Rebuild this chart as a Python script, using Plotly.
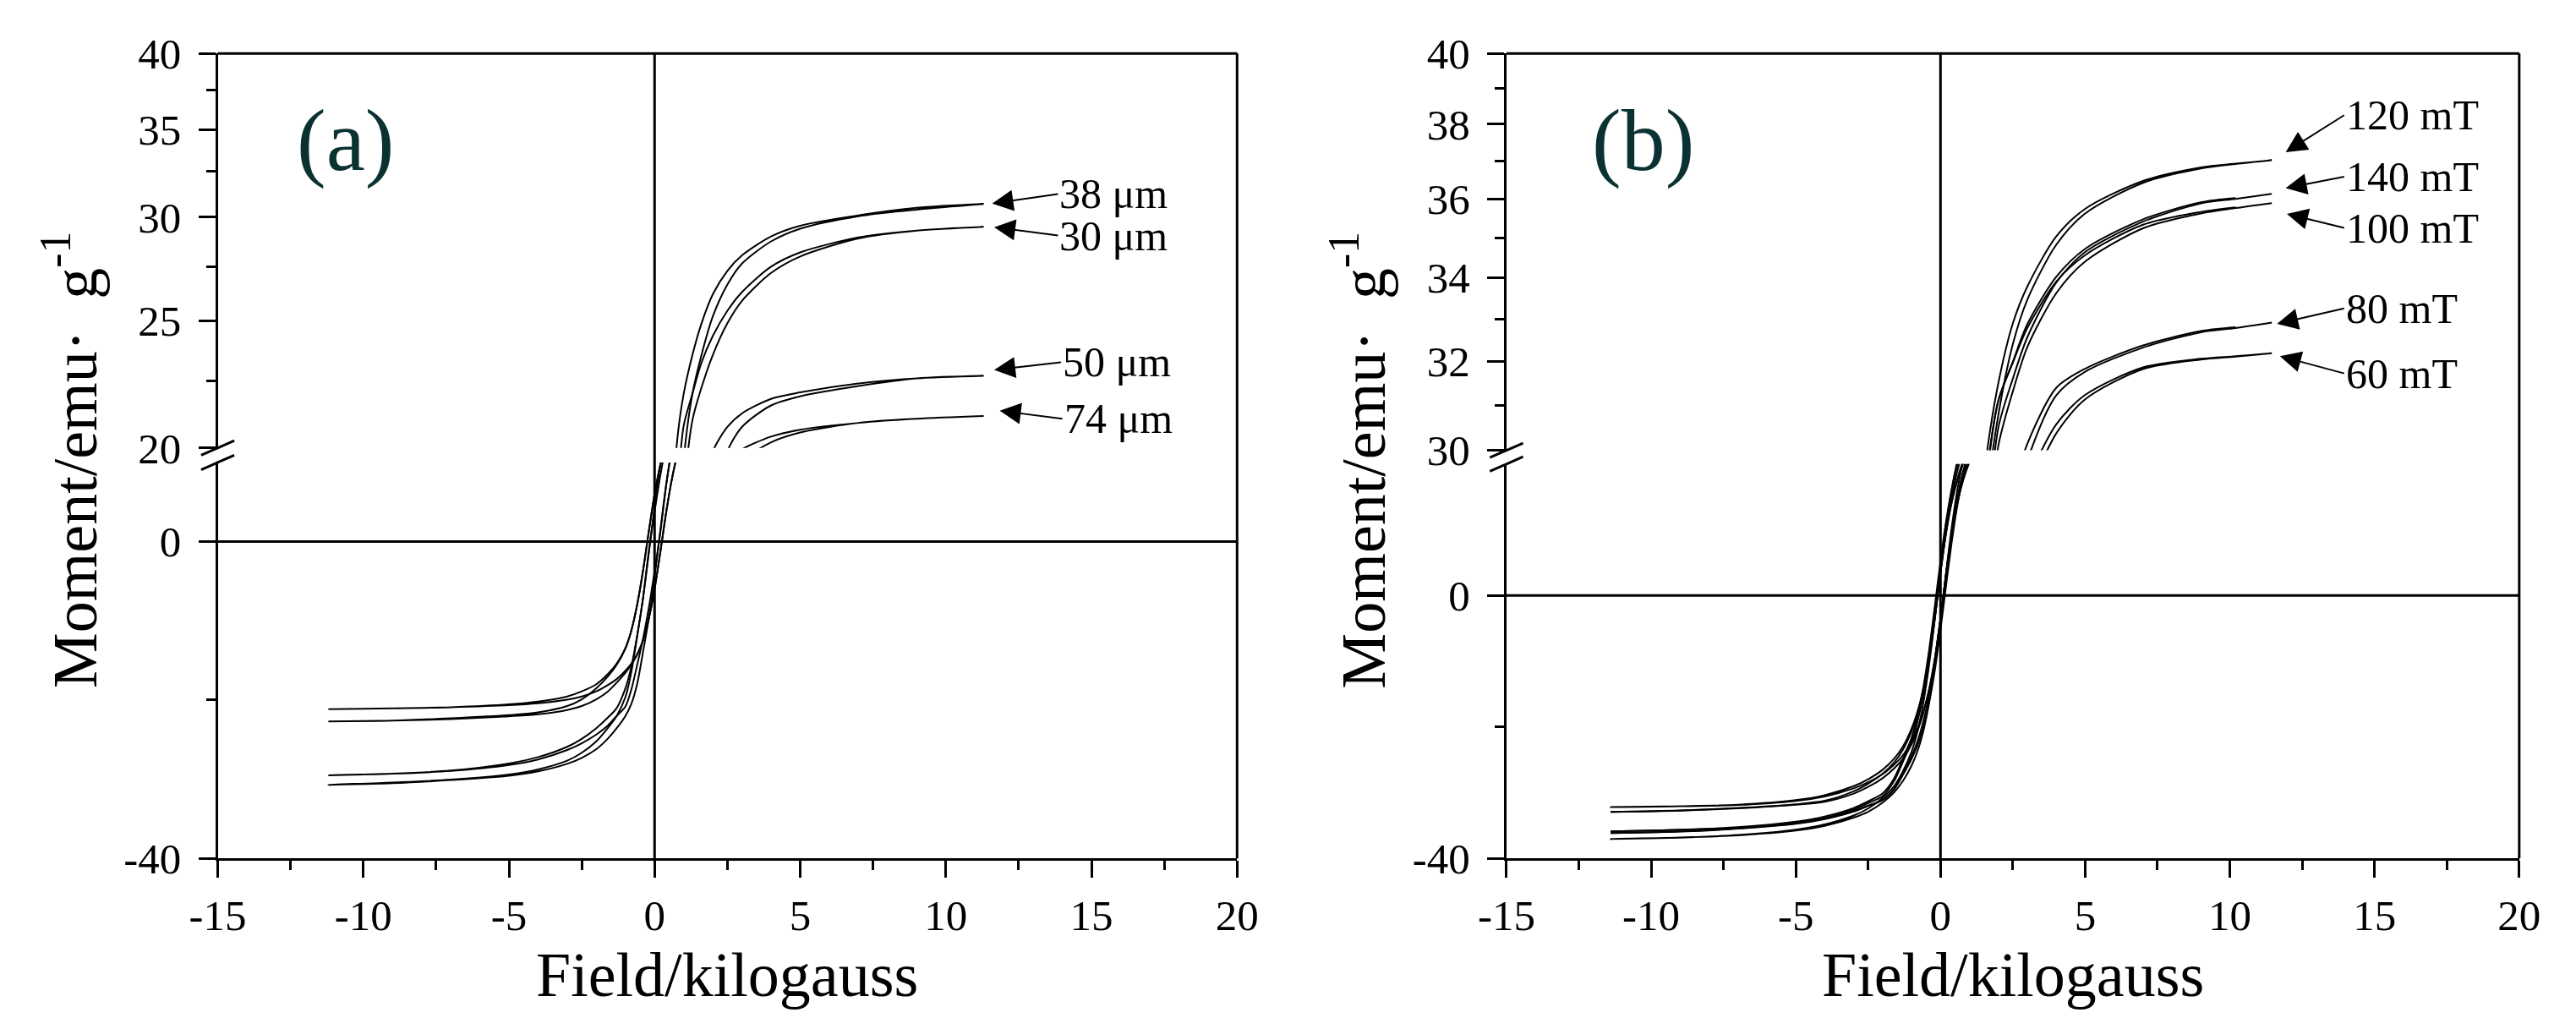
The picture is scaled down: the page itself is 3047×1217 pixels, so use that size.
import numpy as np
import plotly.graph_objects as go

W, H = 3047, 1217
FONT = "Liberation Serif"

# %% data, panel (a): field in kG, moment in emu/g (up = ascending branch, down = descending)
field_a = [-11.2, -9, -7, -5, -4, -3, -2.5, -2, -1.6, -1.3, -1.0, -0.8, -0.6, -0.4, -0.2,
           0, 0.2, 0.4, 0.6, 0.8, 1.0, 1.3, 1.6, 2.0, 2.5, 3, 4, 5, 7, 9, 11.3]

m38_up = [-30.7, -30.5, -30.1, -29.55, -29.0, -28.05, -27.3, -26.2, -24.85, -23.55, -22.0, -20.5, -18.0, -14.0, -9.75,
          -4.5, 1.5, 7.25, 12.0, 16.5, 19.6, 22.0, 23.5, 25.2, 26.65, 27.65, 28.75, 29.4, 30.05, 30.4, 30.7]
m38_down = [-30.7, -30.4, -30.05, -29.4, -28.75, -27.65, -26.65, -25.2, -23.5, -22.0, -19.6, -16.5, -12.0, -7.25, -1.5,
            4.5, 9.75, 14.0, 18.0, 20.5, 22.0, 23.55, 24.85, 26.2, 27.3, 28.05, 29.0, 29.55, 30.1, 30.5, 30.7]

m30_up = [-29.5, -29.3, -28.95, -28.2, -27.5, -26.3, -25.45, -24.35, -23.2, -22.0, -20.8, -18.7, -15.6, -12.3, -8.4,
          -3.75, 1.25, 7.2, 11.9, 15.8, 18.5, 21.0, 22.2, 23.55, 24.9, 25.9, 27.2, 28.0, 28.9, 29.3, 29.5]
m30_down = [-29.5, -29.3, -28.9, -28.0, -27.2, -25.9, -24.9, -23.55, -22.2, -21.0, -18.5, -15.8, -11.9, -7.2, -1.25,
            3.75, 8.4, 12.3, 15.6, 18.7, 20.8, 22.0, 23.2, 24.35, 25.45, 26.3, 27.5, 28.2, 28.95, 29.3, 29.5]

m50_up = [-22.7, -22.6, -22.4, -22.05, -21.8, -21.25, -20.75, -19.9, -18.9, -17.8, -16.55, -15.55, -14.3, -12.5, -9.7,
          -6.0, -1.25, 3.75, 8.0, 11.25, 13.5, 15.55, 17.0, 18.5, 19.9, 20.75, 21.55, 21.9, 22.3, 22.6, 22.7]
m50_down = [-22.7, -22.6, -22.3, -21.9, -21.55, -20.75, -19.9, -18.5, -17.0, -15.55, -13.5, -11.25, -8.0, -3.75, 1.25,
            6.0, 9.7, 12.5, 14.3, 15.55, 16.55, 17.8, 18.9, 19.9, 20.75, 21.25, 21.8, 22.05, 22.4, 22.6, 22.7]

m74_up = [-21.15, -21.05, -20.9, -20.65, -20.4, -19.95, -19.55, -18.9, -18.1, -17.35, -16.3, -15.4, -14.2, -12.5, -9.75,
          -6.0, -1.25, 3.75, 8.0, 11.25, 13.4, 15.4, 16.7, 18.0, 18.9, 19.55, 20.2, 20.55, 20.9, 21.05, 21.15]
m74_down = [-21.15, -21.05, -20.9, -20.55, -20.2, -19.55, -18.9, -18.0, -16.7, -15.4, -13.4, -11.25, -8.0, -3.75, 1.25,
            6.0, 9.75, 12.5, 14.2, 15.4, 16.3, 17.35, 18.1, 18.9, 19.55, 19.95, 20.4, 20.65, 20.9, 21.05, 21.15]

# %% data, panel (b)
field_b = [-11.4, -9, -7, -5, -4, -3, -2.5, -2, -1.6, -1.3, -1.0, -0.8, -0.6, -0.4, -0.2,
           0, 0.2, 0.4, 0.6, 0.8, 1.0, 1.3, 1.6, 2.0, 2.5, 3, 4, 5, 7, 9, 10.2, 11.45]

m120_up = [-37.02, -36.83, -36.47, -35.74, -35.03, -33.78, -32.89, -31.5, -29.93, -28.23, -25.87, -23.75, -20.75, -16.5, -10.75,
           -3.75, 3.75, 10.75, 16.5, 20.75, 23.75, 26.73, 28.97, 30.78, 32.4, 33.46, 34.82, 35.62, 36.42, 36.8, 36.92, 37.02]
m120_down = [-37.02, -36.8, -36.42, -35.62, -34.82, -33.46, -32.4, -30.78, -28.97, -26.73, -23.75, -20.75, -16.5, -10.75, -3.75,
             3.75, 10.75, 16.5, 20.75, 23.75, 25.87, 28.23, 29.93, 31.5, 32.89, 33.78, 35.03, 35.74, 36.47, 36.83, 36.93, 37.02]

m140_up = [-36.13, -35.91, -35.47, -34.72, -34.02, -32.87, -31.99, -31.1, -29.4, -26.97, -24.4, -22.25, -19.25, -15.25, -10.0,
           -3.5, 3.5, 10.0, 15.25, 19.25, 22.25, 25.3, 28.2, 30.5, 31.6, 32.56, 33.88, 34.64, 35.41, 35.88, 36.0, 36.13]
m140_down = [-36.13, -35.88, -35.41, -34.64, -33.88, -32.56, -31.6, -30.5, -28.2, -25.3, -22.25, -19.25, -15.25, -10.0, -3.5,
             3.5, 10.0, 15.25, 19.25, 22.25, 24.4, 26.97, 29.4, 31.1, 31.99, 32.87, 34.02, 34.72, 35.47, 35.91, 36.02, None]

m100_up = [-35.89, -35.66, -35.33, -34.56, -33.9, -32.78, -31.97, -31.1, -29.5, -27.3, -24.85, -22.88, -20.13, -16.38, -11.5,
           -5.25, 1.75, 8.5, 14.13, 18.38, 21.63, 24.85, 27.8, 30.1, 31.31, 32.33, 33.62, 34.4, 35.24, 35.62, 35.76, 35.89]
m100_down = [-35.89, -35.62, -35.24, -34.4, -33.62, -32.33, -31.31, -30.1, -27.8, -24.85, -21.63, -18.38, -14.13, -8.5, -1.75,
             5.25, 11.5, 16.38, 20.13, 22.88, 24.85, 27.3, 29.5, 31.1, 31.97, 32.78, 33.9, 34.56, 35.33, 35.66, 35.78, None]

m80_up = [-32.91, -32.71, -32.37, -31.83, -31.39, -30.14, -29.12, -27.78, -26.3, -24.83, -22.63, -20.65, -18.0, -14.5, -9.75,
          -3.5, 3.5, 9.75, 14.5, 18.0, 20.65, 23.47, 25.37, 27.1, 28.62, 29.78, 31.22, 31.76, 32.32, 32.68, 32.78, 32.91]
m80_down = [-32.91, -32.68, -32.32, -31.76, -31.22, -29.78, -28.62, -27.1, -25.37, -23.47, -20.65, -18.0, -14.5, -9.75, -3.5,
            3.5, 9.75, 14.5, 18.0, 20.65, 22.63, 24.83, 26.3, 27.78, 29.12, 30.14, 31.39, 31.83, 32.37, 32.71, 32.8, None]

m60_up = [-32.19, -32.06, -31.86, -31.23, -30.57, -29.33, -28.4, -27.16, -25.7, -24.3, -22.13, -20.25, -17.75, -14.4, -9.75,
          -3.5, 3.5, 9.75, 14.4, 17.75, 20.25, 22.97, 24.8, 26.5, 27.94, 29.0, 30.37, 31.13, 31.82, 32.04, 32.11, 32.19]
m60_down = [-32.19, -32.04, -31.82, -31.13, -30.37, -29.0, -27.94, -26.5, -24.8, -22.97, -20.25, -17.75, -14.4, -9.75, -3.5,
            3.5, 9.75, 14.4, 17.75, 20.25, 22.13, 24.3, 25.7, 27.16, 28.4, 29.33, 30.57, 31.23, 31.86, 32.06, 32.12, 32.19]

# labels: text, label left x, label y, arrow head x, arrow head y
labels_a = [("38 μm", 13.85, 31.25, 11.59, 30.73),
            ("30 μm", 13.85, 29.05, 11.66, 29.48),
            ("50 μm", 13.95, 23.25, 11.66, 22.94),
            ("74 μm", 14.0, 21.05, 11.85, 21.35)]
labels_b = [("120 mT", 13.95, 38.25, 11.93, 37.24),
            ("140 mT", 13.95, 36.58, 11.93, 36.28),
            ("100 mT", 13.95, 35.25, 11.97, 35.61),
            ("80 mT", 13.95, 33.25, 11.63, 32.88),
            ("60 mT", 13.95, 31.72, 11.73, 32.12)]

x_ticks = [-15, -10, -5, 0, 5, 10, 15, 20]
x_minor = [-12.5, -7.5, -2.5, 2.5, 7.5, 12.5, 17.5]


def px_x(p):
    return p / W


def px_y(p):
    return 1 - p / H


# panel geometry in pixels: left, right, top, bottom, bottom of upper part, top of lower part
panels = {
    "a": dict(l=228, r=1458, t=38, b=1036, ub=527, lt=545),
    "b": dict(l=1783, r=3005, t=38, b=1036, ub=530, lt=547),
}

fig = go.Figure()

loops_a = [(m38_up, m38_down), (m30_up, m30_down), (m50_up, m50_down), (m74_up, m74_down)]
loops_b = [(m120_up, m120_down), (m140_up, m140_down), (m100_up, m100_down),
           (m80_up, m80_down), (m60_up, m60_down)]


def add_loops(field, loops, xa, ylow, yhigh):
    for up, down in loops:
        xs = list(field) + list(field[::-1])
        ys = list(up) + list(down[::-1])
        for ya in (ylow, yhigh):
            fig.add_trace(go.Scatter(x=xs, y=ys, mode="lines", xaxis=xa, yaxis=ya,
                                     line=dict(color="black", width=2, shape="spline", smoothing=0.8),
                                     hoverinfo="skip", showlegend=False))


add_loops(field_a, loops_a, "x", "y", "y2")
add_loops(field_b, loops_b, "x2", "y3", "y4")

tickfont = dict(family=FONT, size=51, color="black")
common = dict(showline=True, linecolor="black", linewidth=3, ticks="outside", ticklen=20,
              tickwidth=3, tickcolor="black", showgrid=False, zeroline=False, tickfont=tickfont)
ycommon = dict(common, ticklabelstandoff=10)
minor_style = dict(ticklen=11, tickwidth=3, tickcolor="black", tickmode="array", showgrid=False)

pa, pb = panels["a"], panels["b"]
fig.update_layout(
    xaxis=dict(domain=[px_x(pa["l"]), px_x(pa["r"])], anchor="y", range=[-15, 20],
               tickmode="array", tickvals=x_ticks, ticktext=[str(v) for v in x_ticks],
               minor=dict(tickvals=x_minor, **minor_style), **common),
    yaxis=dict(domain=[px_y(pa["b"]), px_y(pa["lt"])], anchor="x", range=[-40, 10],
               tickmode="array", tickvals=[-40, 0], ticktext=["-40", "0"],
               minor=dict(tickvals=[-20], **minor_style), **ycommon),
    yaxis2=dict(domain=[px_y(pa["ub"]), px_y(pa["t"])], anchor="x", type="log",
                range=[np.log10(20), np.log10(40)],
                tickmode="array", tickvals=[20, 25, 30, 35, 40], ticktext=["20", "25", "30", "35", "40"],
                minor=dict(tickvals=[22.5, 27.5, 32.5, 37.5], **minor_style), **ycommon),
    xaxis2=dict(domain=[px_x(pb["l"]), px_x(pb["r"])], anchor="y3", range=[-15, 20],
                tickmode="array", tickvals=x_ticks, ticktext=[str(v) for v in x_ticks],
                minor=dict(tickvals=x_minor, **minor_style), **common),
    yaxis3=dict(domain=[px_y(pb["b"]), px_y(pb["lt"])], anchor="x2", range=[-40, 20],
                tickmode="array", tickvals=[-40, 0], ticktext=["-40", "0"],
                minor=dict(tickvals=[-20], **minor_style), **ycommon),
    yaxis4=dict(domain=[px_y(pb["ub"]), px_y(pb["t"])], anchor="x2", type="log",
                range=[np.log10(30), np.log10(40)],
                tickmode="array", tickvals=[30, 32, 34, 36, 38, 40],
                ticktext=["30", "32", "34", "36", "38", "40"],
                minor=dict(tickvals=[31, 33, 35, 37, 39], **minor_style), **ycommon),
)

shapes = []
line_k = dict(color="black", width=3)
for key, xa, ylow, yhigh in (("a", "x", "y", "y2"), ("b", "x2", "y3", "y4")):
    p = panels[key]
    # top and right frame
    shapes.append(dict(type="line", xref=xa + " domain", yref=yhigh + " domain",
                       x0=0, x1=1, y0=1, y1=1, line=line_k))
    shapes.append(dict(type="line", xref=xa + " domain", yref="paper",
                       x0=1, x1=1, y0=px_y(p["b"]), y1=px_y(p["t"]), line=line_k))
    # zero lines
    shapes.append(dict(type="line", xref=xa + " domain", yref=ylow,
                       x0=0, x1=1, y0=0, y1=0, line=line_k))
    shapes.append(dict(type="line", xref=xa, yref="paper",
                       x0=0, x1=0, y0=px_y(p["b"]), y1=px_y(p["t"]), line=line_k))
    # break marks on the left axis
    for yy in (p["ub"], p["lt"]):
        shapes.append(dict(type="line", xref="paper", yref="paper",
                           x0=px_x(p["l"] - 20), x1=px_x(p["l"] + 20),
                           y0=px_y(yy + 9), y1=px_y(yy - 9), line=line_k))
fig.update_layout(shapes=shapes)

ann = []
for key, label in (("a", "(a)"), ("b", "(b)")):
    p = panels[key]
    cx = 382 if key == "a" else 1948
    ann.append(dict(text=label, xref="paper", yref="paper", x=px_x(cx), y=px_y(146),
                    showarrow=False, xanchor="center", yanchor="middle",
                    font=dict(family=FONT, size=104, color="#0b3232")))
    ann.append(dict(text="Field/kilogauss", xref="paper", yref="paper",
                    x=px_x((p["l"] + p["r"]) / 2), y=px_y(1180), showarrow=False,
                    xanchor="center", yanchor="middle", font=dict(family=FONT, size=74, color="black")))
    ann.append(dict(text="Moment/emu·  g<sup>-1</sup>", xref="paper", yref="paper",
                    x=px_x(p["l"] - 178), y=px_y(542), showarrow=False, textangle=-90,
                    xanchor="center", yanchor="middle", font=dict(family=FONT, size=74, color="black")))

# curve labels: text box hangs off the arrow tail, arrow points at the end of the curve
for labels, xa, ya in ((labels_a, "x", "y2"), (labels_b, "x2", "y4")):
    for text, lx, ly, hx, hy in labels:
        ann.append(dict(text=text, xref=xa, yref=ya, x=hx, y=np.log10(hy),
                        axref=xa, ayref=ya, ax=lx, ay=np.log10(ly), showarrow=True,
                        xanchor="left", yanchor="middle",
                        arrowhead=2, arrowsize=2.5, arrowwidth=2, arrowcolor="black",
                        font=dict(family=FONT, size=50, color="black")))
fig.update_layout(annotations=ann)

fig.update_layout(width=W, height=H, margin=dict(l=0, r=0, t=0, b=0),
                  plot_bgcolor="white", paper_bgcolor="white",
                  font=dict(family=FONT, color="black"))

fig.write_html("out.html", config={"displayModeBar": False},
               post_script="document.body.style.margin='0';")
